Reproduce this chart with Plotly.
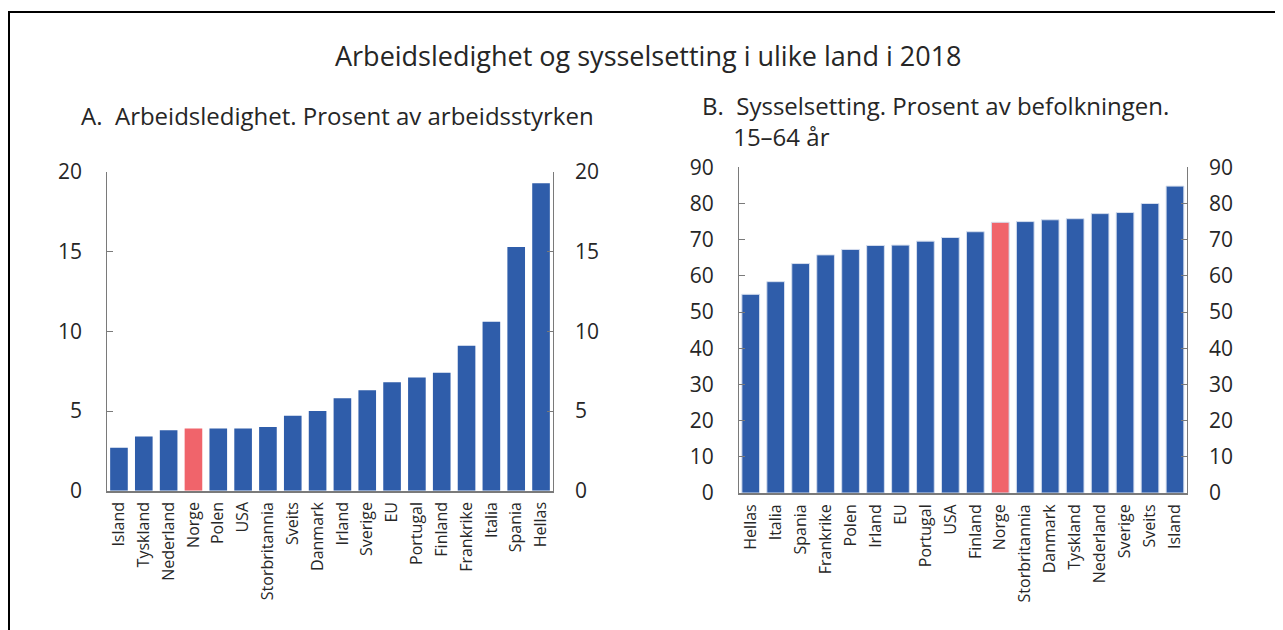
import plotly.graph_objects as go

# Panel A: unemployment, percent of labour force
cats_a = ["Island", "Tyskland", "Nederland", "Norge", "Polen", "USA", "Storbritannia",
          "Sveits", "Danmark", "Irland", "Sverige", "EU", "Portugal", "Finland",
          "Frankrike", "Italia", "Spania", "Hellas"]
vals_a = [2.7, 3.4, 3.8, 3.9, 3.9, 3.9, 4.0, 4.7, 5.0, 5.8, 6.3, 6.8, 7.1, 7.4,
          9.1, 10.6, 15.3, 19.3]

# Panel B: employment, percent of population 15-64
cats_b = ["Hellas", "Italia", "Spania", "Frankrike", "Polen", "Irland", "EU", "Portugal",
          "USA", "Finland", "Norge", "Storbritannia", "Danmark", "Tyskland", "Nederland",
          "Sverige", "Sveits", "Island"]
vals_b = [54.9, 58.4, 63.4, 65.8, 67.3, 68.4, 68.5, 69.6, 70.6, 72.2, 74.8, 75.0,
          75.5, 75.8, 77.2, 77.5, 80.0, 84.8]

ticks_a = [0, 5, 10, 15, 20]
ticks_b = [0, 10, 20, 30, 40, 50, 60, 70, 80, 90]

title = "Arbeidsledighet og sysselsetting i ulike land i 2018"
sub_a = "A.  Arbeidsledighet. Prosent av arbeidsstyrken"
sub_b1 = "B.  Sysselsetting. Prosent av befolkningen."
sub_b2 = "15–64 år"

BLUE = "#2F5DAA"
RED = "#F0646B"
FONT = "Open Sans"
TXT = "#262626"
AX = "#7a7a7a"

W, H = 1283, 630
OFF = 8  # page body margin


def px_x(p):
    return (p - OFF) / W


def px_y(p):
    return 1 - (p - OFF) / H


colors_a = [RED if c == "Norge" else BLUE for c in cats_a]
colors_b = [RED if c == "Norge" else BLUE for c in cats_b]

fig = go.Figure()
fig.add_trace(go.Bar(x=cats_a, y=vals_a, marker=dict(color=colors_a, line=dict(width=0)),
                     xaxis="x", yaxis="y", showlegend=False, hoverinfo="x+y"))
fig.add_trace(go.Scatter(x=cats_a, y=vals_a, mode="markers", marker=dict(opacity=0),
                         xaxis="x", yaxis="y3", showlegend=False, hoverinfo="skip"))
fig.add_trace(go.Bar(x=cats_b, y=vals_b,
                     marker=dict(color=colors_b, line=dict(width=1, color="#D5DEEE")),
                     xaxis="x2", yaxis="y2", showlegend=False, hoverinfo="x+y"))
fig.add_trace(go.Scatter(x=cats_b, y=vals_b, mode="markers", marker=dict(opacity=0),
                         xaxis="x2", yaxis="y4", showlegend=False, hoverinfo="skip"))

dom_xa = [px_x(107.3), px_x(552.7)]
dom_ya = [px_y(490.7), px_y(172)]
dom_xb = [px_x(739), px_x(1186.7)]
dom_yb = [px_y(493), px_y(167.3)]


def yax(side, standoff):
    return dict(showgrid=False, zeroline=False, showline=True, linecolor=AX, linewidth=1.3,
                ticks="inside", ticklen=6, tickcolor=AX, tickwidth=1.3,
                tickfont=dict(family=FONT, size=21, color=TXT), automargin=False,
                ticklabelstandoff=standoff, side=side)


common_x = dict(showgrid=False, zeroline=False, showline=True, linecolor=AX, linewidth=1.8,
                ticks="", tickangle=-90, tickfont=dict(family=FONT, size=16, color=TXT),
                automargin=False, ticklabelstandoff=3, type="category")

indent = "\u00a0" * 5

fig.update_layout(
    width=W, height=H,
    margin=dict(l=0, r=0, t=0, b=0),
    paper_bgcolor="white", plot_bgcolor="white",
    bargap=0.29,
    xaxis=dict(domain=dom_xa, anchor="y", range=[-0.47, 17.47], **common_x),
    yaxis=dict(domain=dom_ya, anchor="x", range=[0, 20], tickvals=ticks_a, **yax("left", 20)),
    yaxis3=dict(overlaying="y", anchor="x", range=[0, 20], tickvals=ticks_a, **yax("right", 17)),
    xaxis2=dict(domain=dom_xb, anchor="y2", range=[-0.47, 17.47], **common_x),
    yaxis2=dict(domain=dom_yb, anchor="x2", range=[0, 90], tickvals=ticks_b, **yax("left", 20)),
    yaxis4=dict(overlaying="y2", anchor="x2", range=[0, 90], tickvals=ticks_b, **yax("right", 17)),
    shapes=[dict(type="rect", xref="paper", yref="paper", x0=px_x(9), x1=1.05,
                 y0=-0.05, y1=px_y(12), line=dict(color="black", width=2),
                 fillcolor="rgba(0,0,0,0)")],
    annotations=[
        dict(text=title, xref="paper", yref="paper", x=px_x(648), y=px_y(56),
             xanchor="center", yanchor="middle", showarrow=False,
             font=dict(family=FONT, size=27, color=TXT)),
        dict(text=sub_a, xref="paper", yref="paper", x=px_x(79), y=px_y(115),
             xanchor="left", yanchor="middle", showarrow=False,
             font=dict(family=FONT, size=24, color=TXT)),
        dict(text=sub_b1 + "<br>" + indent + sub_b2, xref="paper", yref="paper",
             x=px_x(700), y=px_y(120.5), xanchor="left", yanchor="middle", align="left",
             showarrow=False, font=dict(family=FONT, size=24, color=TXT)),
    ],
)

fig.write_html("out.html")
